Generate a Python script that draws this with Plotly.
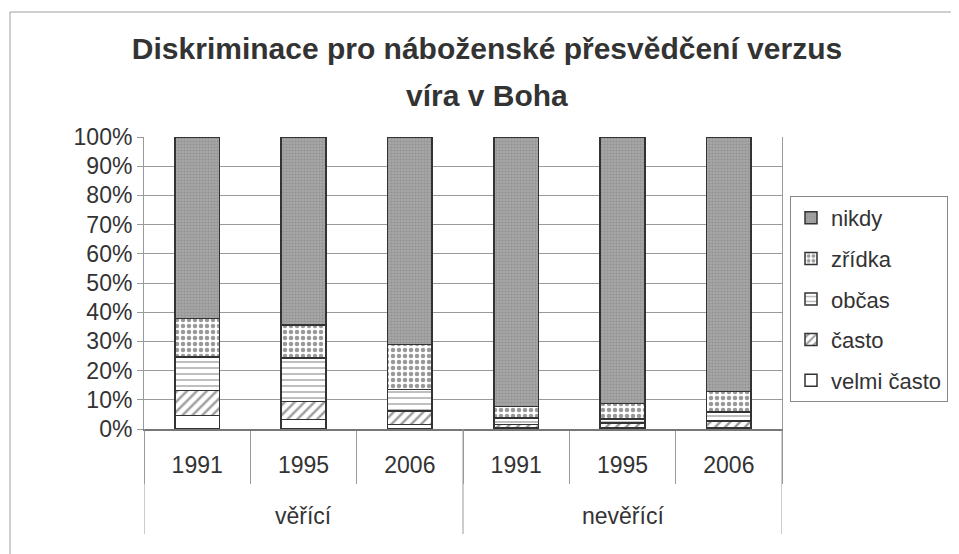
import plotly.graph_objects as go

groups = ["věřící", "nevěřící"]
years = ["1991", "1995", "2006", "1991", "1995", "2006"]
group_of_bar = ["věřící", "věřící", "věřící", "nevěřící", "nevěřící", "nevěřící"]

series_names = ["velmi často", "často", "občas", "zřídka", "nikdy"]
velmi_casto = [4.6, 3.2, 1.5, 0.5, 0.6, 0.6]
casto = [8.6, 6.3, 4.6, 1.0, 1.5, 2.1]
obcas = [11.4, 14.9, 7.4, 2.3, 1.4, 3.1]
zridka = [13.2, 11.3, 15.4, 3.9, 5.3, 7.1]
nikdy = [62.2, 64.3, 71.1, 92.3, 91.2, 87.1]

y_ticks = [0, 10, 20, 30, 40, 50, 60, 70, 80, 90, 100]

values = [velmi_casto, casto, obcas, zridka, nikdy]
patterns = [
    dict(shape="", bgcolor="white"),
    dict(shape="/", fgcolor="#3a3a3a", bgcolor="white", size=7, solidity=0.35),
    dict(shape="-", fgcolor="#707070", bgcolor="white", size=6, solidity=0.3),
    dict(shape=".", fgcolor="#333333", bgcolor="white", size=6, solidity=0.45),
    dict(shape=".", fgcolor="#7a7a7a", bgcolor="#a8a8a8", size=3, solidity=0.4),
]
colors = ["white", "white", "white", "white", "#a0a0a0"]

x_pos = list(range(len(years)))

fig = go.Figure()
n_series = len(series_names)
for i, (name, vals, pat, col) in enumerate(zip(series_names, values, patterns, colors)):
    fig.add_trace(go.Bar(
        name=name,
        x=x_pos,
        y=vals,
        legendgroup=name,
        legendrank=n_series - i,
        customdata=group_of_bar,
        hovertemplate="%{customdata} " + "%{x}: %{y}%<extra>" + name + "</extra>",
        marker=dict(color=col, pattern=pat, line=dict(color="#333333", width=1.5)),
    ))

font_main = "Liberation Sans, Arial, sans-serif"
text_col = "#333333"

# plot area in reference pixels: x 144..782, y 137..429 ; page body offset 8px
PL, PR, PT, PB = 144, 782, 137, 429
OFF = 8
PW, PH = PR - PL, PB - PT

fig.update_layout(
    width=959, height=554,
    barmode="stack",
    bargap=0.58,
    paper_bgcolor="white",
    plot_bgcolor="white",
    margin=dict(l=PL - OFF, r=959 - (PR - OFF), t=PT - OFF, b=554 - (PB - OFF), autoexpand=False),
    font=dict(family=font_main, size=23, color=text_col),
    title=dict(
        text="<b>Diskriminace pro náboženské přesvědčení verzus</b>",
        x=(487 - OFF) / 959, xanchor="center", xref="container",
        y=1 - (48 - OFF) / 554, yanchor="middle", yref="container",
        font=dict(size=30, family=font_main, color=text_col),
    ),
    legend=dict(
        traceorder="grouped",
        x=(790 - PL) / PW, xanchor="left",
        y=(PB - 196) / PH, yanchor="top",
        bordercolor="#888888", borderwidth=1,
        font=dict(size=22, family=font_main, color=text_col),
        tracegroupgap=9,
        itemwidth=30,
    ),
    showlegend=True,
)

fig.add_annotation(
    text="<b>víra v Boha</b>", xref="paper", yref="paper",
    x=(487 - PL) / PW, y=(PB - 95) / PH, xanchor="center", yanchor="middle",
    showarrow=False, font=dict(size=30, family=font_main, color=text_col),
)

fig.update_yaxes(
    range=[0, 100],
    tickvals=y_ticks,
    ticktext=[f"{v}%" for v in y_ticks],
    showgrid=True, gridcolor="#9a9a9a", gridwidth=1,
    showline=True, linecolor="#9a9a9a", linewidth=1, mirror=True,
    ticks="outside", ticklen=6, tickcolor="#9a9a9a",
    tickfont=dict(size=23),
)

n = len(years)
boundaries = [i - 0.5 for i in range(n + 1)]
fig.update_xaxes(
    range=[-0.5, n - 0.5],
    tickvals=x_pos, ticktext=years,
    ticks="", ticklabelstandoff=15,
    showgrid=False, zeroline=False,
    showline=True, linecolor="#777777", linewidth=1.5,
    tickfont=dict(size=23),
    minor=dict(tickvals=boundaries, ticks="outside", ticklen=482 - PB, tickcolor="#9a9a9a", showgrid=False),
)

# group labels and group dividers
group_size = n // len(groups)
for gi, g in enumerate(groups):
    center = gi * group_size + (group_size - 1) / 2
    fig.add_annotation(
        text=g, xref="x", yref="paper", x=center, y=(PB - 516) / PH,
        xanchor="center", yanchor="middle", showarrow=False,
        font=dict(size=23, family=font_main, color=text_col),
    )
for gi in range(len(groups) + 1):
    xb = gi * group_size - 0.5
    fig.add_shape(
        type="line", xref="x", yref="paper", x0=xb, x1=xb,
        y0=0, y1=(PB - 534) / PH, line=dict(color="#9a9a9a", width=1),
    )

# outer chart frame (reference page pixels, shifted inside the figure)
fig.add_shape(
    type="rect", xref="paper", yref="paper",
    x0=(10 - PL) / PW, x1=(975 - PL) / PW,
    y0=(PB - 570) / PH, y1=(PB - 12) / PH,
    line=dict(color="#a0a0a0", width=1), fillcolor="rgba(0,0,0,0)",
    layer="below",
)

fig.write_html("out.html")
